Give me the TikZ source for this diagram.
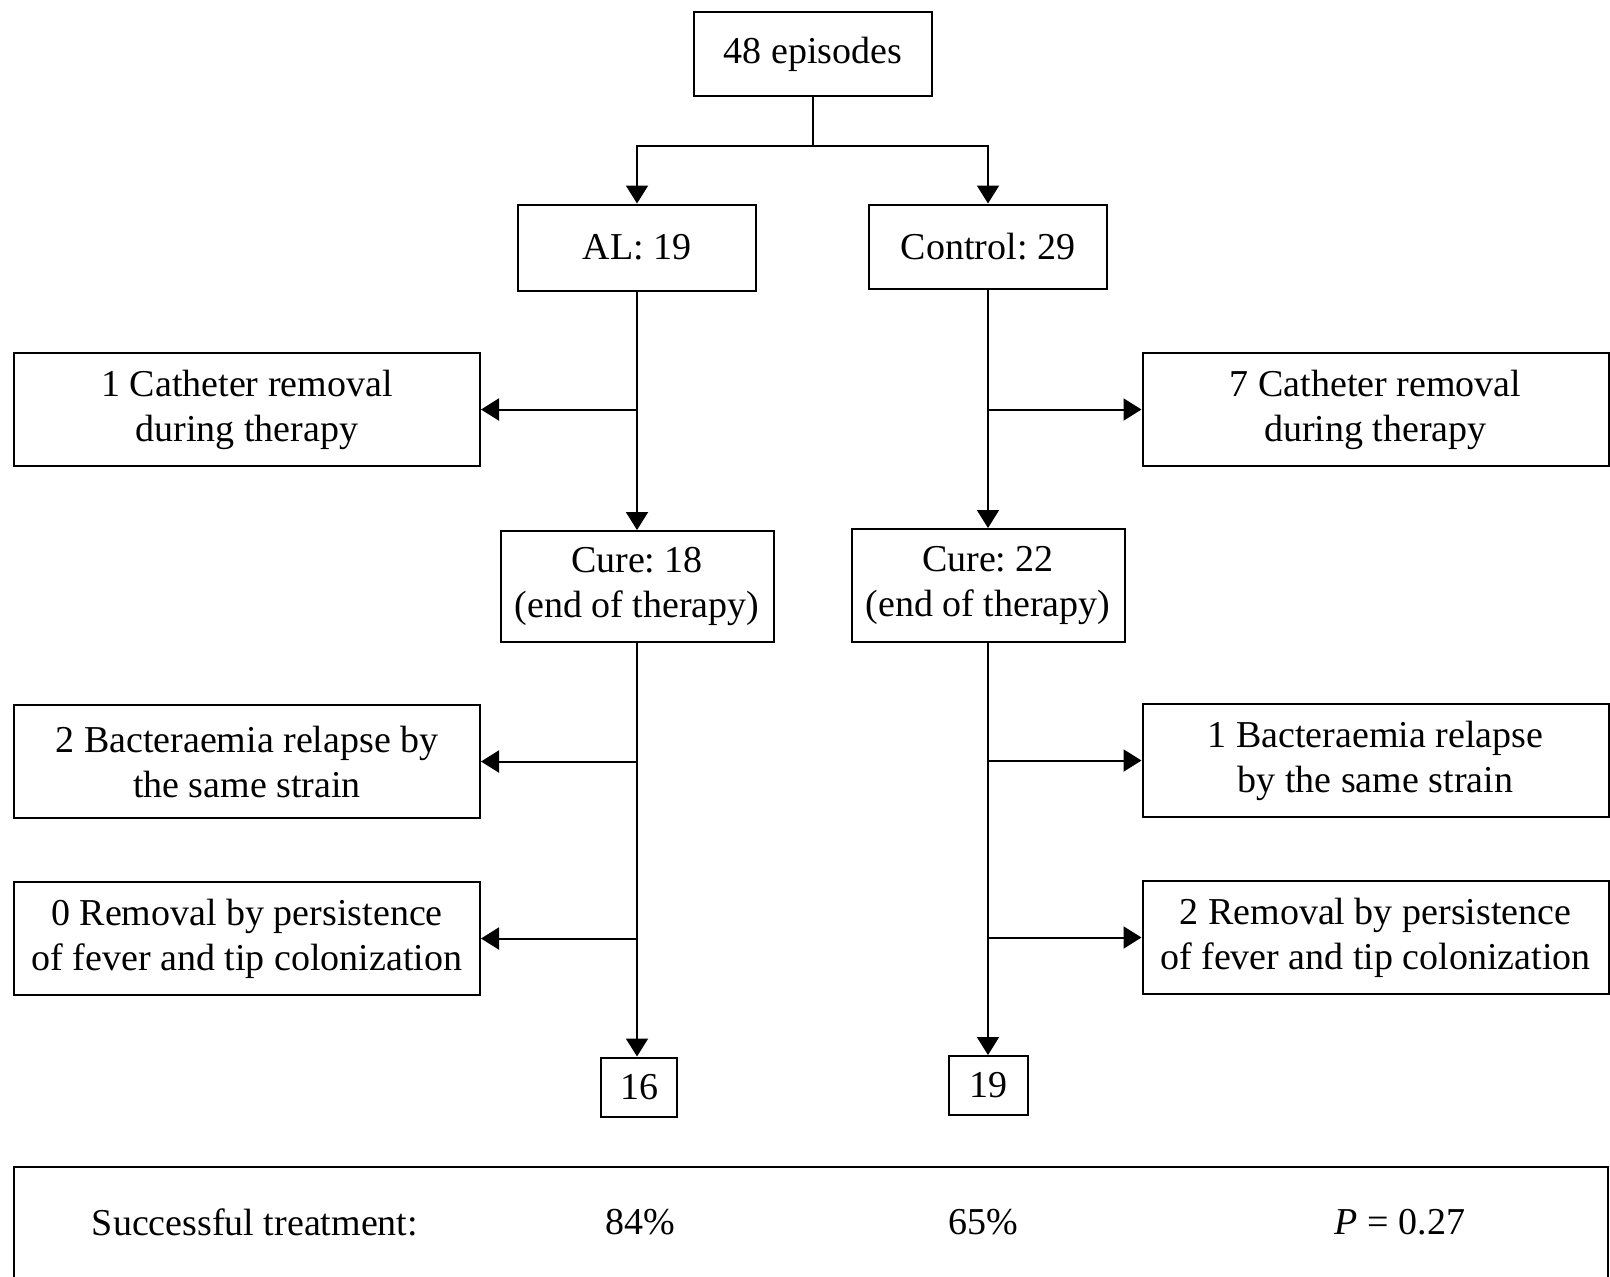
\documentclass[tikz,border=0pt]{standalone}
\usepackage{fontspec}
\setmainfont{Liberation Serif}
\usetikzlibrary{arrows.meta}
\frenchspacing

\begin{document}
\begin{tikzpicture}[x=0.5pt,y=-0.5pt,
  font=\fontsize{19}{22.5}\selectfont,
  box/.style={draw, line width=1pt, align=center, inner sep=0pt},
  sidebox/.style={box, minimum width=233pt, minimum height=56.5pt},
  arr/.style={line width=1pt, -{Triangle[length=9pt,width=11pt]}}]
\useasboundingbox (0,0) rectangle (1610,1276);
\node[box, minimum width=119pt, minimum height=42pt] (episodes) at (813,54) {48 episodes};
\node[box, minimum width=119pt, minimum height=43pt] (al) at (637,247.5) {AL: 19};
\node[box, minimum width=119pt, minimum height=42pt] (ctrl) at (988,246.5) {Control: 29};
\node[sidebox] (cath1) at (247,409.5) {1 Catheter removal\\during therapy};
\node[sidebox] (cath7) at (1375.5,409.5) {7 Catheter removal\\during therapy};
\node[box, minimum width=136.5pt, minimum height=55.5pt] (cure1) at (637,586.5) {Cure: 18\\(end of therapy)};
\node[box, minimum width=136.5pt, minimum height=56.5pt] (cure2) at (988,585.5) {Cure: 22\\(end of therapy)};
\node[sidebox] (rel2) at (247,761.5) {2 Bacteraemia relapse by\\the same strain};
\node[sidebox] (rel1) at (1375.5,760.5) {1 Bacteraemia relapse\\by the same strain};
\node[sidebox] (rem0) at (247,938.5) {0 Removal by persistence\\of fever and tip colonization};
\node[sidebox] (rem2) at (1375.5,937.5) {2 Removal by persistence\\of fever and tip colonization};
\node[box, minimum width=38pt, minimum height=29.5pt] (n16) at (639,1087) {16};
\node[box, minimum width=39.5pt, minimum height=29.5pt] (n19) at (988.5,1085.5) {19};
\coordinate (split) at (813,146);
\draw[line width=1pt] (episodes.south) -- (split);
\draw[arr] (split) -| (al.north);
\draw[arr] (split) -| (ctrl.north);
\draw[arr] (al.south) -- (cure1.north);
\draw[arr] (ctrl.south) -- (cure2.north);
\draw[arr] (al.south |- cath1.east) -- (cath1.east);
\draw[arr] (ctrl.south |- cath7.west) -- (cath7.west);
\draw[arr] (cure1.south) -- (cure1.south |- n16.north);
\draw[arr] (cure2.south) -- (cure2.south |- n19.north);
\draw[arr] (cure1.south |- rel2.east) -- (rel2.east);
\draw[arr] (cure1.south |- rem0.east) -- (rem0.east);
\draw[arr] (cure2.south |- rel1.west) -- (rel1.west);
\draw[arr] (cure2.south |- rem2.west) -- (rem2.west);
\begin{scope}
\clip (0,0) rectangle (1610,1276);
\draw[line width=1pt] (14,1167) rectangle (1608,1300);
\end{scope}
\node (succ) at (255,1222) {Successful treatment:};
\node (pctal) at (640,1222) {84\%};
\node (pctctrl) at (983,1222) {65\%};
\node (pval) at (1400,1222) {\textit{P} = 0.27};
\end{tikzpicture}
\end{document}
